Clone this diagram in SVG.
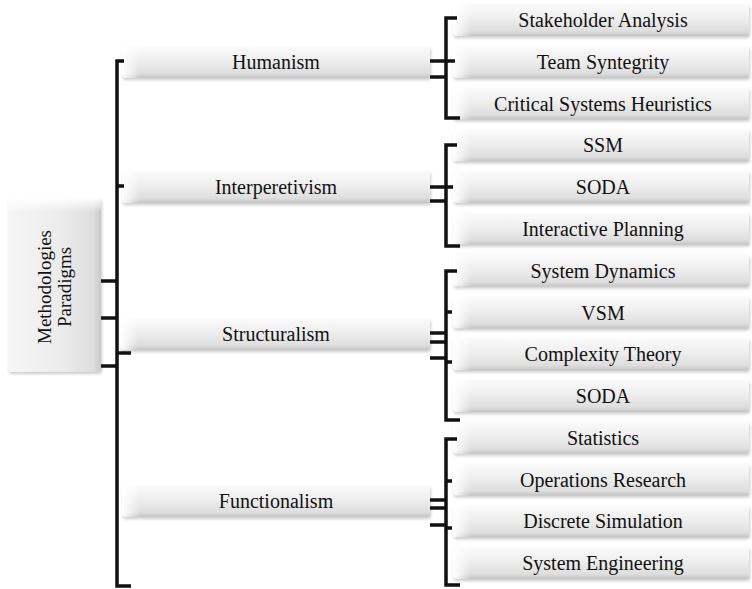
<svg xmlns="http://www.w3.org/2000/svg" width="752" height="589" viewBox="0 0 752 589">
<defs>
<linearGradient id="gv" x1="0" y1="0" x2="0" y2="1">
<stop offset="0" stop-color="#fbfbfb"/>
<stop offset="0.45" stop-color="#eeeeee"/>
<stop offset="0.85" stop-color="#dedede"/>
<stop offset="1" stop-color="#c4c4c4"/>
</linearGradient>
<linearGradient id="gh" x1="0" y1="0" x2="1" y2="0">
<stop offset="0" stop-color="#ffffff" stop-opacity="1"/>
<stop offset="1" stop-color="#ffffff" stop-opacity="0"/>
</linearGradient>
<linearGradient id="gr" x1="0" y1="0" x2="1" y2="0">
<stop offset="0" stop-color="#f6f6f6"/>
<stop offset="0.6" stop-color="#ebebeb"/>
<stop offset="0.92" stop-color="#dddddd"/>
<stop offset="1" stop-color="#c8c8c8"/>
</linearGradient>
<linearGradient id="gt" x1="0" y1="0" x2="0" y2="1">
<stop offset="0" stop-color="#ffffff" stop-opacity="1"/>
<stop offset="1" stop-color="#ffffff" stop-opacity="0"/>
</linearGradient>
<filter id="sh" x="-5%" y="-20%" width="110%" height="150%">
<feGaussianBlur stdDeviation="1.5"/>
</filter>
</defs>
<style>
.t{font-family:"Liberation Serif","Times New Roman",serif;fill:#111;text-anchor:middle}
.t2{font-size:20px}
.t1{font-size:20px}
.t0{font-size:19px}
.box{fill:url(#gv)}
.shd{fill:#9a9a9a;opacity:0.5;filter:url(#sh)}
.hl{fill:url(#gh)}
.c{fill:none;stroke:#111;stroke-width:3.5;stroke-linecap:butt;stroke-linejoin:miter}
</style>
<rect width="752" height="589" fill="#ffffff"/>

<g id="root">
<rect class="shd" x="9" y="200" width="93" height="174" rx="3"/>
<rect x="8" y="198" width="93" height="174" rx="3" fill="url(#gr)"/>
<rect x="8" y="198" width="93" height="14" rx="3" fill="url(#gt)"/>
<text class="t t0" transform="translate(51,287) rotate(-90)">Methodologies</text>
<text class="t t0" transform="translate(71,287) rotate(-90)">Paradigms</text>
</g>

<g id="n-humanism">
<rect class="shd" x="123" y="48" width="308" height="32" rx="3"/>
<rect class="box" x="122" y="46" width="308" height="32" rx="3"/>
<rect class="hl" x="122" y="46" width="18" height="32" rx="3"/>
<text class="t t1" x="276" y="68.5">Humanism</text>
</g>
<g id="n-interperetivism">
<rect class="shd" x="123" y="173" width="308" height="32" rx="3"/>
<rect class="box" x="122" y="171" width="308" height="32" rx="3"/>
<rect class="hl" x="122" y="171" width="18" height="32" rx="3"/>
<text class="t t1" x="276" y="193.5">Interperetivism</text>
</g>
<g id="n-structuralism">
<rect class="shd" x="121" y="320" width="310" height="32" rx="3"/>
<rect class="box" x="120" y="318" width="310" height="32" rx="3"/>
<rect class="hl" x="120" y="318" width="18" height="32" rx="3"/>
<text class="t t1" x="276" y="341">Structuralism</text>
</g>
<g id="n-functionalism">
<rect class="shd" x="123" y="487" width="308" height="32" rx="3"/>
<rect class="box" x="122" y="485" width="308" height="32" rx="3"/>
<rect class="hl" x="122" y="485" width="18" height="32" rx="3"/>
<text class="t t1" x="276" y="507.5">Functionalism</text>
</g>

<g id="n-stakeholder">
<rect class="shd" x="454" y="6" width="296" height="32" rx="3"/>
<rect class="box" x="453" y="4" width="296" height="32" rx="3"/>
<rect class="hl" x="453" y="4" width="18" height="32" rx="3"/>
<text class="t t2" x="603" y="27">Stakeholder Analysis</text>
</g>
<g id="n-team">
<rect class="shd" x="454" y="48" width="296" height="32" rx="3"/>
<rect class="box" x="453" y="46" width="296" height="32" rx="3"/>
<rect class="hl" x="453" y="46" width="18" height="32" rx="3"/>
<text class="t t2" x="603" y="68.5">Team Syntegrity</text>
</g>
<g id="n-csh">
<rect class="shd" x="454" y="89.5" width="296" height="32" rx="3"/>
<rect class="box" x="453" y="87.5" width="296" height="32" rx="3"/>
<rect class="hl" x="453" y="87.5" width="18" height="32" rx="3"/>
<text class="t t2" x="603" y="110.5">Critical Systems Heuristics</text>
</g>
<g id="n-ssm">
<rect class="shd" x="454" y="131.3" width="296" height="32" rx="3"/>
<rect class="box" x="453" y="129.3" width="296" height="32" rx="3"/>
<rect class="hl" x="453" y="129.3" width="18" height="32" rx="3"/>
<text class="t t2" x="603" y="152">SSM</text>
</g>
<g id="n-soda1">
<rect class="shd" x="454" y="173.1" width="296" height="32" rx="3"/>
<rect class="box" x="453" y="171.1" width="296" height="32" rx="3"/>
<rect class="hl" x="453" y="171.1" width="18" height="32" rx="3"/>
<text class="t t2" x="603" y="194">SODA</text>
</g>
<g id="n-ip">
<rect class="shd" x="454" y="214.8" width="296" height="32" rx="3"/>
<rect class="box" x="453" y="212.8" width="296" height="32" rx="3"/>
<rect class="hl" x="453" y="212.8" width="18" height="32" rx="3"/>
<text class="t t2" x="603" y="235.5">Interactive Planning</text>
</g>
<g id="n-sd">
<rect class="shd" x="454" y="256.6" width="296" height="32" rx="3"/>
<rect class="box" x="453" y="254.6" width="296" height="32" rx="3"/>
<rect class="hl" x="453" y="254.6" width="18" height="32" rx="3"/>
<text class="t t2" x="603" y="277.5">System Dynamics</text>
</g>
<g id="n-vsm">
<rect class="shd" x="454" y="298.4" width="296" height="32" rx="3"/>
<rect class="box" x="453" y="296.4" width="296" height="32" rx="3"/>
<rect class="hl" x="453" y="296.4" width="18" height="32" rx="3"/>
<text class="t t2" x="603" y="319.5">VSM</text>
</g>
<g id="n-complexity">
<rect class="shd" x="454" y="340.2" width="296" height="32" rx="3"/>
<rect class="box" x="453" y="338.2" width="296" height="32" rx="3"/>
<rect class="hl" x="453" y="338.2" width="18" height="32" rx="3"/>
<text class="t t2" x="603" y="361">Complexity Theory</text>
</g>
<g id="n-soda2">
<rect class="shd" x="454" y="381.9" width="296" height="32" rx="3"/>
<rect class="box" x="453" y="379.9" width="296" height="32" rx="3"/>
<rect class="hl" x="453" y="379.9" width="18" height="32" rx="3"/>
<text class="t t2" x="603" y="403">SODA</text>
</g>
<g id="n-statistics">
<rect class="shd" x="454" y="423.7" width="296" height="32" rx="3"/>
<rect class="box" x="453" y="421.7" width="296" height="32" rx="3"/>
<rect class="hl" x="453" y="421.7" width="18" height="32" rx="3"/>
<text class="t t2" x="603" y="444.5">Statistics</text>
</g>
<g id="n-or">
<rect class="shd" x="454" y="465.5" width="296" height="32" rx="3"/>
<rect class="box" x="453" y="463.5" width="296" height="32" rx="3"/>
<rect class="hl" x="453" y="463.5" width="18" height="32" rx="3"/>
<text class="t t2" x="603" y="486.5">Operations Research</text>
</g>
<g id="n-ds">
<rect class="shd" x="454" y="507.2" width="296" height="32" rx="3"/>
<rect class="box" x="453" y="505.2" width="296" height="32" rx="3"/>
<rect class="hl" x="453" y="505.2" width="18" height="32" rx="3"/>
<text class="t t2" x="603" y="528">Discrete Simulation</text>
</g>
<g id="n-se">
<rect class="shd" x="454" y="549" width="296" height="32" rx="3"/>
<rect class="box" x="453" y="547" width="296" height="32" rx="3"/>
<rect class="hl" x="453" y="547" width="18" height="32" rx="3"/>
<text class="t t2" x="603" y="570">System Engineering</text>
</g>

<g id="connectors">
<path class="c" d="M124,61 H117 V586 H131"/>
<path class="c" d="M117,186 H124 M117,353 H131"/>
<path class="c" d="M101,281 H117 M101,318 H117 M101,366 H117"/>

<path class="c" d="M457,18 H446 V118 H460"/>
<path class="c" d="M430,61 H455 M430,77 H446"/>

<path class="c" d="M457,145 H446 V246 H460"/>
<path class="c" d="M430,187 H453 M430,201 H446"/>

<path class="c" d="M457,271 H446 V420 H460"/>
<path class="c" d="M446,312 H452 M430,333 H446 M430,342 H446 M430,358 H446 M446,362 H452"/>

<path class="c" d="M457,439 H446 V585 H460"/>
<path class="c" d="M446,481 H452 M430,500 H446 M430,508 H446 M430,525 H446 M446,528 H452"/>
</g>
</svg>
